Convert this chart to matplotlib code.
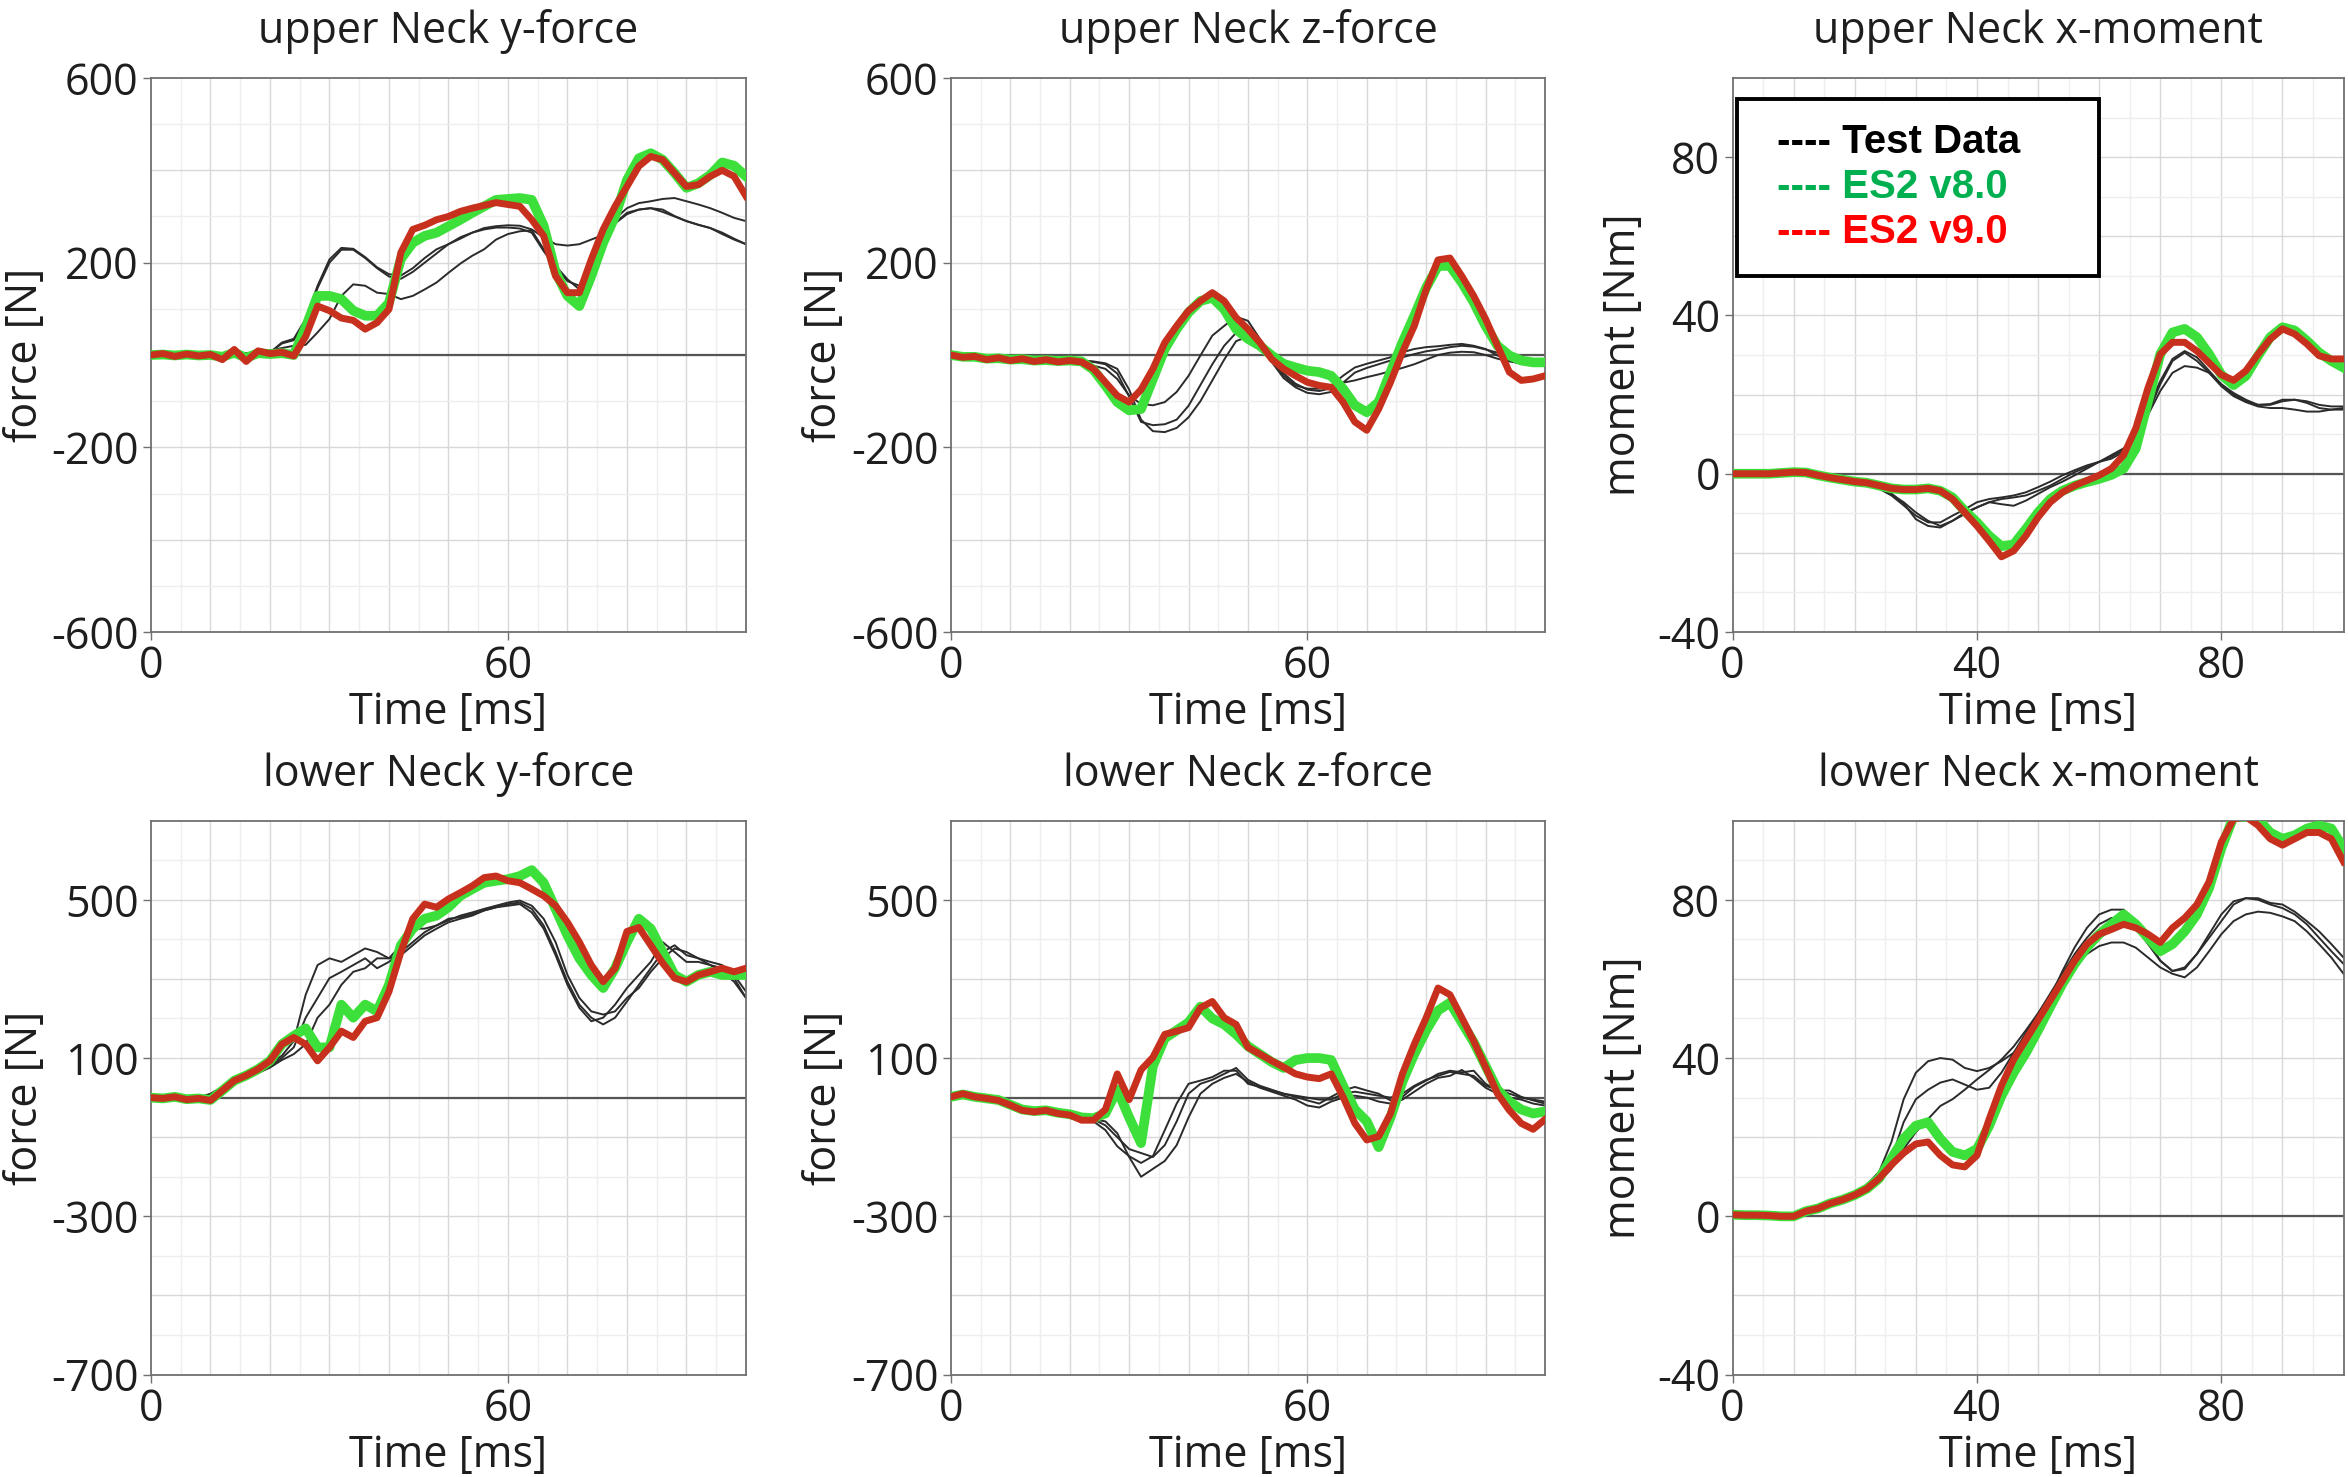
import numpy as np
import matplotlib
matplotlib.use('Agg')
import matplotlib.pyplot as plt
from matplotlib.patches import Rectangle

plt.rcParams['font.family'] = 'Open Sans'
plt.rcParams['axes.unicode_minus'] = False

# time axis, every 2 ms
t = np.arange(0, 101, 2)

# ---- upper Neck y-force [N]
uy_test1 = [0, 0, 0, 0, 0, 1, 2, 3, 3, 4, 5, 27, 35, 78, 150, 207, 232, 230, 212, 190, 175,
            172, 188, 210, 229, 240, 252, 265, 275, 279, 281, 280, 272, 255, 240, 237,
            240, 250, 260, 295, 318, 329, 333, 338, 340, 333, 326, 318, 308, 297, 290]
uy_test2 = [0, 0, 0, 0, 0, 1, 2, 3, 3, 4, 5, 25, 32, 75, 145, 200, 228, 228, 210, 188, 170,
            165, 180, 200, 220, 240, 255, 265, 272, 276, 276, 274, 265, 225, 190, 160,
            150, 185, 235, 285, 305, 315, 318, 310, 300, 290, 282, 275, 262, 250, 240]
uy_test3 = [0, 0, 0, 0, 0, 1, 2, 3, 4, 6, 10, 15, 20, 22, 49, 78, 128, 153, 150, 135, 132,
            121, 128, 142, 157, 178, 198, 215, 229, 250, 262, 268, 270, 229, 193, 164,
            142, 193, 243, 286, 308, 315, 318, 315, 301, 290, 282, 275, 265, 252, 240]
uy_v8 = [0, 1, -1, 1, -1, 0, -4, 5, -6, 4, 2, 4, 0, 60, 128, 128, 121, 96, 85, 85, 113,
         208, 243, 258, 265, 279, 293, 308, 322, 336, 338, 340, 336, 280, 180, 128,
         106, 171, 243, 300, 379, 426, 437, 423, 394, 362, 372, 390, 417, 410, 387]
uy_v9 = [0, 3, -3, 2, -2, 1, -10, 12, -14, 9, 3, 6, -2, 40, 106, 96, 80, 75, 56, 70, 99,
         222, 272, 281, 293, 300, 311, 318, 324, 330, 326, 322, 293, 258, 171, 135,
         135, 207, 272, 322, 365, 409, 430, 423, 394, 365, 369, 387, 400, 387, 344]

# ---- upper Neck z-force [N]
uz_test1 = [0, -2, -4, -6, -7, -8, -9, -10, -10, -11, -12, -19, -23, -30, -52, -88, -106, -109,
            -102, -80, -45, -1, 42, 63, 83, 74, 35, -9, -45, -66, -73, -73, -66, -45, -27, -19,
            -12, -5, 6, 13, 17, 19, 22, 24, 20, 13, -1, -12, -19, -23, -24]
uz_test2 = [0, -2, -4, -6, -7, -8, -9, -10, -10, -11, -12, -12, -15, -20, -40, -90, -145, -152,
            -150, -140, -110, -65, -20, 20, 48, 45, 20, -15, -50, -70, -82, -85, -80, -60, -38,
            -28, -20, -12, -5, 2, 8, 12, 17, 20, 18, 12, 5, -5, -12, -15, -18]
uz_test3 = [0, -2, -4, -6, -7, -8, -9, -10, -10, -11, -12, -12, -14, -18, -30, -75, -140, -165,
            -167, -158, -135, -100, -55, -10, 30, 40, 22, -5, -40, -62, -75, -78, -72, -60, -55,
            -48, -42, -35, -28, -20, -10, 0, 5, 7, 6, 0, -8, -14, -18, -22, -24]
uz_v8 = [0, -4, -4, -8, -7, -10, -9, -12, -11, -13, -12, -14, -32, -66, -102, -120, -117, -52,
         13, 56, 92, 117, 124, 99, 56, 35, 20, -1, -19, -27, -34, -37, -45, -73, -109, -124,
         -102, -37, 27, 85, 146, 193, 193, 157, 114, 63, 20, -1, -12, -16, -16]
uz_v9 = [0, -5, -3, -10, -6, -12, -8, -14, -10, -15, -12, -15, -30, -59, -88, -102, -75, -30,
         27, 63, 96, 117, 135, 117, 81, 56, 27, -9, -30, -45, -59, -66, -70, -102, -145, -163,
         -117, -59, 6, 63, 142, 206, 210, 171, 128, 78, 20, -37, -55, -52, -45]

# ---- upper Neck x-moment [Nm]
ux_test1 = [0, 0, 0, 0, 0, 0, 0, -0.3, -0.8, -1.5, -2, -2.5, -3.8, -5.5, -8, -10.6, -12.3, -12.3,
            -10.6, -9, -7.2, -6.4, -6, -5.5, -4.7, -3.4, -2, -0.4, 0.9, 2.1, 3, 3.8, 5.5, 8.9,
            16.6, 23.4, 29, 31, 29.4, 26, 22.6, 20.4, 18.7, 17.4, 17.4, 18.3, 18.7, 18.3, 17.4, 17, 17]
ux_test2 = [0, 0, 0, 0, 0, 0, 0, -0.3, -0.8, -1.5, -2, -2.5, -3.5, -5, -7.5, -11.5, -13.2, -13.6,
            -11.9, -9.8, -8.5, -7.2, -7.7, -8.1, -6.8, -5.1, -3.4, -2, -0.4, 1.3, 3, 4.7, 6.4, 9.8,
            14.9, 20.9, 25.5, 27.2, 26.8, 25.5, 22.6, 20, 18.3, 17.4, 17.6, 18.7, 18.7, 17.9, 16.6, 16.2, 16.2]
ux_test3 = [0, 0, 0, 0, 0, 0, 0, -0.3, -0.8, -1.5, -2, -2.5, -3.6, -5.2, -7.2, -9.8, -11.9, -13.2,
            -11.9, -10.2, -8.5, -7.2, -6.4, -6, -5.5, -4.3, -3, -1.3, 0.4, 1.7, 3, 4.3, 6, 9.4,
            15.3, 22.6, 28.5, 30.6, 28.5, 25.5, 22.1, 19.6, 18.1, 17, 16.6, 16.6, 16.2, 15.7, 15.7, 16.2, 16.6]
ux_v8 = [0, 0, 0, 0, 0.2, 0.4, 0.3, -0.4, -1, -1.5, -2, -2.3, -3, -3.7, -4, -4, -3.7, -4.3, -6,
         -9.4, -12.3, -15.7, -18.3, -17.9, -14, -9.8, -6.4, -4.3, -3, -2.1, -1.3, -0.3, 1.3, 6.4,
         18.3, 30.2, 35.7, 36.6, 34.5, 30.2, 25, 22.4, 24.7, 29.8, 34.5, 37, 36.2, 33.6, 30.6, 28.5, 26.8]
ux_v9 = [0, 0, 0, 0, 0.2, 0.4, 0.3, -0.4, -1, -1.5, -2, -2.3, -3, -3.7, -4, -4, -3.7, -4.3, -6.4,
         -9.8, -13.2, -17, -21, -19.5, -15.7, -11, -7.2, -4.7, -3, -1.7, -0.4, 1.3, 4.7, 11.5,
         21.7, 30.2, 33.2, 33.2, 31, 28, 25, 23.6, 26, 30.2, 34, 36.6, 35.3, 32.8, 29.8, 29, 29]

# ---- lower Neck y-force [N]
ly_test1 = [0, 0, 0, 0, 0, 10, 27, 43, 56, 68, 85, 106, 143, 260, 335, 352, 343, 360, 377, 368,
            352, 385, 427, 427, 435, 448, 460, 468, 477, 485, 493, 498, 485, 452, 393, 310, 252,
            218, 210, 218, 252, 277, 318, 352, 377, 368, 352, 343, 335, 310, 268]
ly_test2 = [0, 0, 0, 0, 0, 8, 22, 38, 52, 65, 80, 100, 127, 202, 252, 302, 318, 335, 352, 327,
            343, 368, 393, 418, 435, 452, 456, 464, 473, 481, 489, 493, 477, 435, 368, 293, 235,
            202, 185, 202, 243, 285, 327, 368, 385, 360, 352, 335, 327, 302, 252]
ly_test3 = [0, 0, 0, 0, 0, 6, 18, 33, 48, 62, 76, 95, 110, 135, 202, 235, 285, 318, 327, 352,
            352, 360, 385, 410, 427, 443, 452, 460, 473, 481, 485, 489, 468, 427, 360, 285, 227,
            193, 202, 235, 277, 310, 343, 393, 368, 343, 343, 335, 318, 293, 252]
ly_v8 = [0, -2, 2, -4, -2, -6, 18, 43, 56, 72, 93, 135, 156, 175, 127, 127, 235, 202, 235, 218,
         285, 385, 427, 452, 460, 481, 510, 527, 543, 548, 552, 560, 575, 543, 477, 410, 352,
         310, 277, 327, 393, 452, 427, 368, 310, 293, 310, 318, 310, 310, 310]
ly_v9 = [0, -2, 2, -5, -2, -7, 18, 43, 56, 72, 93, 135, 152, 135, 93, 127, 168, 152, 193, 202,
         268, 368, 452, 489, 481, 502, 518, 535, 556, 560, 548, 543, 527, 510, 485, 443, 393,
         335, 293, 327, 420, 430, 385, 340, 302, 293, 310, 318, 327, 318, 327]

# ---- lower Neck z-force [N]
lz_test1 = [0, 0, -2, -5, -8, -10, -25, -35, -38, -40, -45, -50, -60, -82, -123, -148, -165, -148,
            -82, -15, 35, 43, 52, 68, 68, 35, 27, 18, 10, 2, -7, -15, 2, 18, 27, 18, 10, -7, 2,
            27, 43, 60, 68, 64, 68, 35, 18, 18, 2, -7, -15]
lz_test2 = [0, 0, -2, -5, -8, -10, -25, -35, -38, -40, -45, -50, -55, -70, -100, -130, -140, -150,
            -120, -60, 10, 35, 45, 60, 75, 45, 30, 20, 10, 5, 0, -5, -5, 10, 15, 10, 5, 0, 10,
            30, 45, 55, 65, 60, 55, 30, 20, 10, 0, -5, -10]
lz_test3 = [0, 0, -2, -5, -8, -10, -25, -35, -38, -40, -45, -50, -55, -60, -90, -150, -200, -180,
            -160, -120, -50, 10, 35, 50, 60, 40, 25, 15, 5, -5, -20, -25, -10, 0, 5, 0, -10, -15,
            -5, 15, 35, 50, 55, 70, 50, 25, 10, 0, -5, -15, -20]
lz_v8 = [2, 8, 2, -2, -6, -18, -30, -34, -32, -38, -42, -50, -52, -40, 20, -50, -115, 80, 150,
         170, 190, 230, 200, 185, 160, 130, 110, 90, 75, 95, 100, 100, 95, 30, -30, -60, -125,
         -50, 40, 110, 170, 220, 240, 190, 140, 80, 20, -10, -30, -40, -35]
lz_v9 = [2, 10, 2, -2, -7, -19, -32, -36, -32, -40, -44, -57, -57, -30, 60, -5, 70, 102, 160,
         168, 177, 227, 243, 202, 185, 127, 110, 93, 77, 60, 52, 48, 60, 2, -65, -107, -98, -40,
         60, 135, 202, 277, 260, 202, 143, 77, 10, -32, -65, -80, -55]

# ---- lower Neck x-moment [Nm]
lx_test1 = [0, 0, 0, 0, 0, 0, 1, 2, 3.2, 4.5, 6, 8, 11.3, 18.8, 29.6, 36.3, 39.2, 40, 39.6, 37.5,
            36.7, 37.5, 39.2, 41.3, 44.6, 49.6, 55.4, 62, 68, 72.9, 76.3, 77.5, 77.5, 74.6, 69.6,
            64.6, 62, 62.9, 66.3, 70.4, 74.6, 78.8, 80.4, 80.4, 79.2, 78.8, 77, 74.6, 72, 68.8, 65.4]
lx_test2 = [0, 0, 0, 0, 0, 0, 1, 2, 3.2, 4.5, 6, 8, 9.6, 14.6, 23.8, 29.6, 32, 33.8, 34.6, 33.3,
            32, 32.5, 36.3, 41.3, 46.3, 51.3, 56.3, 61.3, 66.3, 70.4, 73.8, 75.4, 75, 72.9, 68.8,
            64.6, 62, 62.5, 66.3, 71.3, 76.3, 79.6, 80.4, 80, 78.8, 77.9, 76.3, 73.8, 70.4, 67, 63.8]
lx_test3 = [0, 0, 0, 0, 0, 0, 1, 2, 3, 4, 5.4, 7, 8.8, 12, 17, 21.3, 24.6, 27.9, 29.6, 32, 34.6,
            37, 39.6, 42.9, 47, 51.3, 55.4, 59.6, 63.3, 66.3, 68.3, 69.2, 69.2, 67.9, 65.4, 62.9,
            61.3, 60.4, 62.9, 67, 71.3, 74.6, 76.3, 77, 76.7, 75.8, 74.6, 72, 68.8, 65.4, 61.3]
lx_v8 = [0.4, 0.3, 0.3, 0.2, 0, 0, 1.3, 2, 3.3, 4.2, 5.4, 7, 9.6, 14.6, 19.6, 22.9, 23.8, 19.6,
         16.3, 15.4, 17, 22.9, 30.4, 36.3, 41.3, 47, 53, 58.8, 63.8, 68, 71.3, 73.8, 76.3, 73.8,
         70.4, 67, 68.8, 72, 76.3, 83, 93, 101, 101, 100.4, 97, 95.4, 96.3, 98, 98.8, 98, 93]
lx_v9 = [0.4, 0.3, 0.3, 0.2, 0, 0, 1.3, 2, 3.3, 4.2, 5.4, 7, 9.6, 13, 16, 18.3, 18.8, 15.4, 13,
         12.5, 15.4, 24.6, 33, 39.6, 44.6, 49.6, 54.6, 59.6, 64.6, 68.8, 71.3, 72.5, 73.8, 72.9,
         71.3, 69.2, 72.9, 75.4, 78.8, 84.6, 94.6, 100.4, 101, 98.8, 95.4, 93.8, 95.4, 97, 97, 95.4, 89.6]

titles = ['upper Neck y-force', 'upper Neck z-force', 'upper Neck x-moment',
          'lower Neck y-force', 'lower Neck z-force', 'lower Neck x-moment']
legend_labels = ['---- Test Data', '---- ES2 v8.0', '---- ES2 v9.0']

TEST_C = '#2b2b2b'
V8_C = '#3de03a'
V9_C = '#c8301e'
TXT_C = '#1e1e1e'
FS = 31

fig = plt.figure(figsize=(23.48, 14.77), dpi=100)


def panel(rect, title, tests, v8, v9, ylabel, ylim, yticks, xticks, gstep, labelpad):
    ax = fig.add_axes(rect)
    ax.set_xlim(0, 100)
    ax.set_ylim(*ylim)
    # grid: 5 ms / faint, 10 ms / slightly darker
    for x in np.arange(5, 100, 5):
        ax.axvline(x, color='#d8d8d8' if x % 10 == 0 else '#eeeeee', lw=1.0, zorder=0)
    for y in np.arange(ylim[0] + gstep, ylim[1], gstep):
        major = (y - ylim[0]) % (2 * gstep) == 0
        ax.axhline(y, color='#d8d8d8' if major else '#eeeeee', lw=1.0, zorder=0)
    ax.axhline(0, color='#555555', lw=1.6, zorder=1)

    for tr in tests:
        ax.plot(t, tr, color=TEST_C, lw=1.4, zorder=2)
    ax.plot(t, v8, color=V8_C, lw=7.0, zorder=3, solid_joinstyle='round')
    ax.plot(t, v9, color=V9_C, lw=5.0, zorder=4, solid_joinstyle='round')

    ax.set_xticks(xticks)
    ax.set_yticks(yticks)
    ax.tick_params(length=6, width=1, color='#707070', labelsize=FS,
                   labelcolor=TXT_C, pad=3)
    for s in ax.spines.values():
        s.set_color('#707070')
        s.set_linewidth(1.3)
    ax.set_title(title, fontsize=FS, color=TXT_C, pad=25)
    ax.set_xlabel('Time [ms]', fontsize=FS, color=TXT_C, labelpad=1)
    ax.set_ylabel(ylabel, fontsize=FS, color=TXT_C, labelpad=labelpad)
    return ax


row_y = [0.5721, 0.0693]
col_x = [(0.0643, 0.2534), (0.4050, 0.2530), (0.7379, 0.2602)]
h = 0.3751

panel([col_x[0][0], row_y[0], col_x[0][1], h], titles[0], [uy_test1, uy_test2, uy_test3],
      uy_v8, uy_v9, 'force [N]', (-600, 600), [-600, -200, 200, 600], [0, 60], 100, 2)
panel([col_x[1][0], row_y[0], col_x[1][1], h], titles[1], [uz_test1, uz_test2, uz_test3],
      uz_v8, uz_v9, 'force [N]', (-600, 600), [-600, -200, 200, 600], [0, 60], 100, 3)
ax_leg = panel([col_x[2][0], row_y[0], col_x[2][1], h], titles[2], [ux_test1, ux_test2, ux_test3],
               ux_v8, ux_v9, 'moment [Nm]', (-40, 100), [-40, 0, 40, 80], [0, 40, 80], 10, 8)
panel([col_x[0][0], row_y[1], col_x[0][1], h], titles[3], [ly_test1, ly_test2, ly_test3],
      ly_v8, ly_v9, 'force [N]', (-700, 700), [-700, -300, 100, 500], [0, 60], 100, 2)
panel([col_x[1][0], row_y[1], col_x[1][1], h], titles[4], [lz_test1, lz_test2, lz_test3],
      lz_v8, lz_v9, 'force [N]', (-700, 700), [-700, -300, 100, 500], [0, 60], 100, 3)
panel([col_x[2][0], row_y[1], col_x[2][1], h], titles[5], [lx_test1, lx_test2, lx_test3],
      lx_v8, lx_v9, 'moment [Nm]', (-40, 100), [-40, 0, 40, 80], [0, 40, 80], 10, 8)

# legend box drawn as in the original (text lines inside a black frame)
ax_leg.add_patch(Rectangle((0.008, 0.643), 0.592, 0.319, transform=ax_leg.transAxes,
                           facecolor='white', edgecolor='black', lw=2.8, zorder=6))
for lab, col, yy in zip(legend_labels, ['black', '#00b050', '#ff0000'], [0.884, 0.803, 0.722]):
    ax_leg.text(0.073, yy, lab, transform=ax_leg.transAxes, color=col, fontsize=29,
                fontweight='bold', family='Liberation Sans', va='center', ha='left', zorder=7)

fig.savefig('out.png', dpi=100)
